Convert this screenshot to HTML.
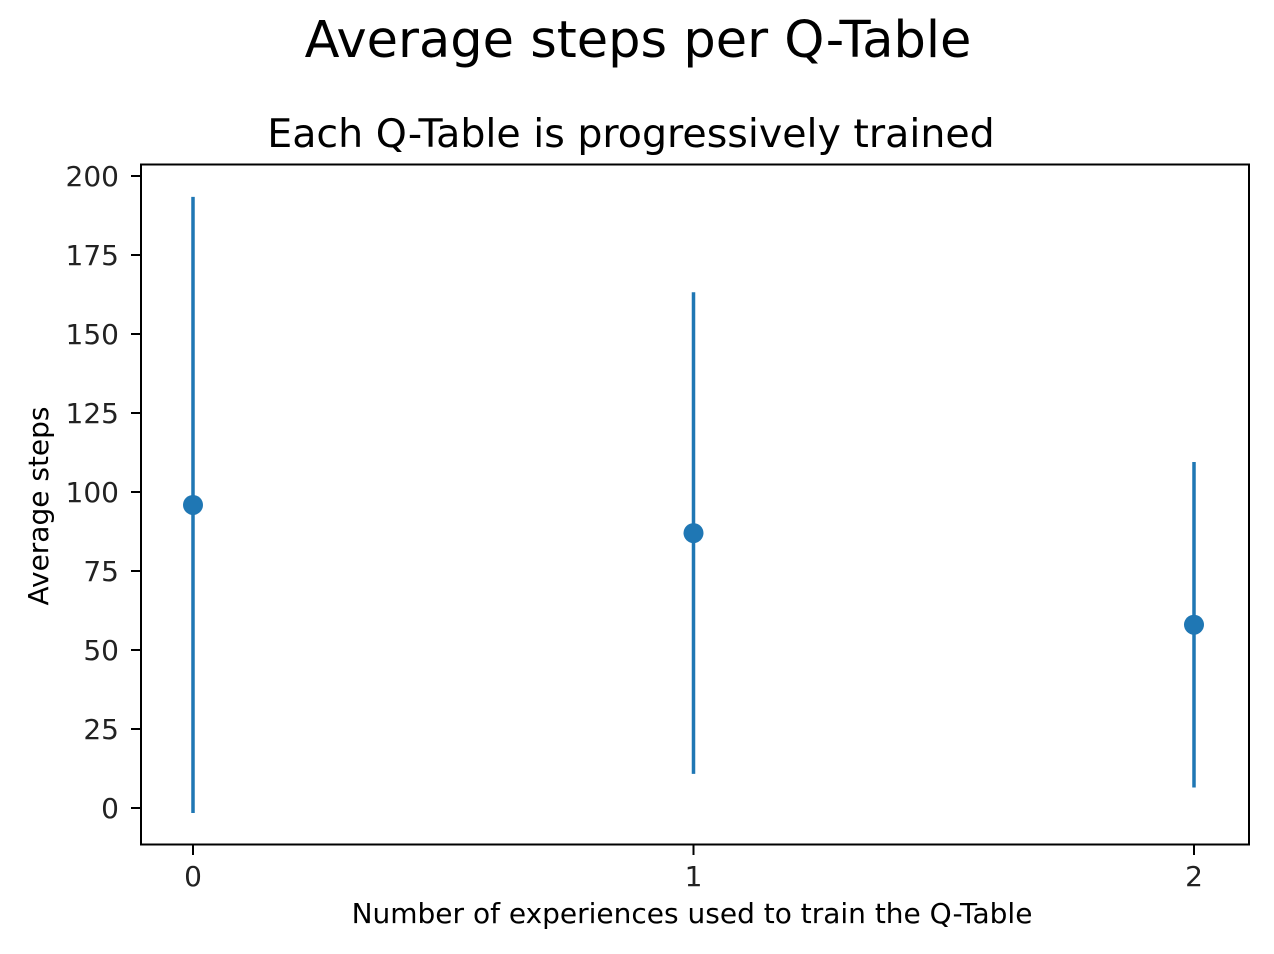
<!DOCTYPE html>
<html><head><meta charset="utf-8"><style>
body{margin:0;background:#fff;}
svg{display:block;font-family:"DejaVu Sans","Liberation Sans",sans-serif;}
</style></head><body>
<svg id="chart" width="1274" height="954" viewBox="0 0 1274 954">
<text x="638" y="57" font-size="51" text-anchor="middle" fill="#000">Average steps per Q-Table</text>
<text x="631" y="147" font-size="39.5" text-anchor="middle" fill="#000">Each Q-Table is progressively trained</text>
<g id="marks"></g>
<rect x="141" y="164.5" width="1108" height="680" fill="none" stroke="#000" stroke-width="2"/>
<text x="692" y="923" font-size="28" text-anchor="middle" fill="#000">Number of experiences used to train the Q-Table</text>
<text transform="translate(48,506) rotate(-90)" font-size="28" text-anchor="middle" fill="#000">Average steps</text>
</svg>
<script>
const categories = [0, 1, 2];
const means = [95.9, 87.0, 58.0];
const errors = [97.5, 76.2, 51.5];
const yTicks = [0, 25, 50, 75, 100, 125, 150, 175, 200];
const xTickLabels = ["0", "1", "2"];

const NS = "http://www.w3.org/2000/svg";
function xs(v){ return 193 + v * 500.5; }
function ys(v){ return 808 - v * 3.16; }
const g = document.getElementById('marks');
function mk(tag, attrs){ const e = document.createElementNS(NS, tag); for (const k in attrs) e.setAttribute(k, attrs[k]); return e; }

yTicks.forEach(t => {
  const y = ys(t);
  const l = mk('line', {x1:131, x2:141, y1:y, y2:y, stroke:'#000', 'stroke-width':2});
  
  
  g.appendChild(l);
  const tx = mk('text', {x:119, y:y+10, 'font-size':28, 'text-anchor':'end', fill:'#222'});
  tx.textContent = t;
  
  
  g.appendChild(tx);
});
categories.forEach((c, i) => {
  const x = xs(c);
  const l = mk('line', {x1:x, x2:x, y1:845, y2:855, stroke:'#000', 'stroke-width':2});
  
  
  g.appendChild(l);
  const tx = mk('text', {x:x, y:886, 'font-size':28, 'text-anchor':'middle', fill:'#222'});
  tx.textContent = xTickLabels[i];
  
  
  g.appendChild(tx);
  const eb = mk('line', {x1:x, x2:x, y1:ys(means[i]+errors[i]), y2:ys(means[i]-errors[i]), stroke:'#1f77b4', 'stroke-width':3.5});
  
  
  g.appendChild(eb);
  const p = mk('circle', {cx:x, cy:ys(means[i]), r:10, fill:'#1f77b4'});
  
  
  g.appendChild(p);
});
</script>
</body></html>
